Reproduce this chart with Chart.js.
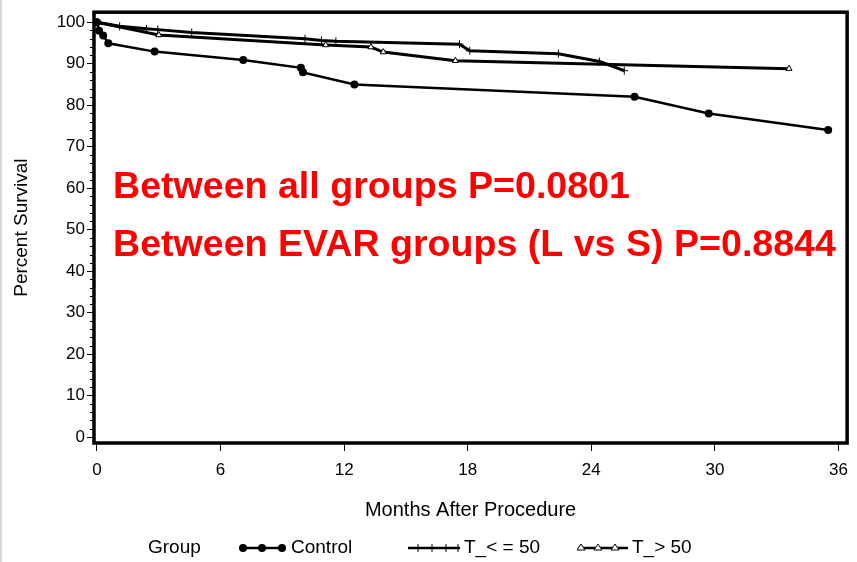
<!DOCTYPE html>
<html>
<head>
<meta charset="utf-8">
<script src="https://cdn.jsdelivr.net/npm/chart.js@4/dist/chart.umd.min.js"></script>
<style>
  html, body { margin: 0; padding: 0; background: #fff; }
  #wrap { width: 857px; height: 562px; }
</style>
</head>
<body>
<div id="wrap"><canvas id="km-chart" width="857" height="562"></canvas></div>
<script>
// Kaplan-Meier survival by group
const controlMonths = [0, 0.1, 0.3, 0.55, 2.8, 7.1, 9.9, 10.0, 12.5, 26.1, 29.7, 35.5];
const controlSurvival = [100, 97.9, 96.8, 94.9, 92.9, 90.9, 89.0, 87.9, 85.0, 82.0, 78.0, 74.0];

const lowMonths = [0, 1.1, 2.4, 2.95, 4.6, 10.1, 10.9, 11.6, 17.6, 18.1, 22.4, 24.4, 25.6];
const lowSurvival = [100, 99.0, 98.4, 98.2, 97.5, 96.0, 95.6, 95.4, 94.7, 93.1, 92.4, 90.5, 88.3];

const highMonths = [0, 3.0, 11.1, 13.3, 13.9, 17.4, 33.6];
const highSurvival = [100, 96.9, 94.5, 94.0, 92.8, 90.7, 88.8];

const groupLabels = ['Control', 'T_< = 50', 'T_> 50'];
const xTicks = [0, 6, 12, 18, 24, 30, 36];
const yTicks = [0, 10, 20, 30, 40, 50, 60, 70, 80, 90, 100];
const pValueNotes = ['Between all groups P=0.0801', 'Between EVAR groups (L vs S) P=0.8844'];

const FONT = 'Arial, "Liberation Sans", sans-serif';

function toPoints(xs, ys) {
    return xs.map((x, i) => ({ x: x, y: ys[i] }));
}

// frame, minor ticks, p-value notes and the SAS-style legend
const extrasPlugin = {
    id: 'extras',
    afterDraw(chart) {
        const ctx = chart.ctx;
        const a = chart.chartArea;
        const ys = chart.scales.y;
        ctx.save();

        // faint edge on the far left
        ctx.strokeStyle = '#d8d8d8';
        ctx.lineWidth = 2;
        ctx.beginPath();
        ctx.moveTo(1, 0);
        ctx.lineTo(1, 562);
        ctx.stroke();

        // plot frame
        ctx.strokeStyle = '#000';
        ctx.lineWidth = 3.5;
        ctx.strokeRect(a.left, a.top, a.right - a.left, a.bottom - a.top);

        // minor y ticks
        ctx.lineWidth = 1;
        for (let v = 2; v < 100; v += 2) {
            if (v % 10 === 0) continue;
            const py = Math.round(ys.getPixelForValue(v)) + 0.5;
            ctx.beginPath();
            ctx.moveTo(a.left - 4, py);
            ctx.lineTo(a.left, py);
            ctx.stroke();
        }

        // p-values
        ctx.fillStyle = '#ff0000';
        ctx.font = 'bold 37.6px ' + FONT;
        ctx.textBaseline = 'alphabetic';
        ctx.textAlign = 'left';
        ctx.fillText(pValueNotes[0], 113, 198);
        ctx.fillText(pValueNotes[1], 113, 256);

        // legend
        const ly = 548;
        ctx.fillStyle = '#000';
        ctx.font = '19px ' + FONT;
        ctx.textBaseline = 'middle';
        ctx.fillText('Group', 148, ly);

        const entries = [
            { x0: 240, x1: 285, text: 291, marks: [243, 262, 282], kind: 'circle' },
            { x0: 408, x1: 460, text: 464, marks: [418, 432, 446, 458], kind: 'cross' },
            { x0: 578, x1: 628, text: 632, marks: [581, 598, 615], kind: 'triangle' }
        ];
        entries.forEach((e, i) => {
            ctx.strokeStyle = '#000';
            ctx.lineWidth = 2.5;
            ctx.beginPath();
            ctx.moveTo(e.x0, ly);
            ctx.lineTo(e.x1, ly);
            ctx.stroke();
            e.marks.forEach(mx => {
                ctx.beginPath();
                if (e.kind === 'circle') {
                    ctx.arc(mx, ly, 4, 0, Math.PI * 2);
                    ctx.fill();
                } else if (e.kind === 'cross') {
                    ctx.lineWidth = 1;
                    ctx.moveTo(mx, ly - 4);
                    ctx.lineTo(mx, ly + 4);
                    ctx.stroke();
                } else {
                    ctx.lineWidth = 1;
                    ctx.fillStyle = '#fff';
                    ctx.moveTo(mx, ly - 4);
                    ctx.lineTo(mx + 4, ly + 2);
                    ctx.lineTo(mx - 4, ly + 2);
                    ctx.closePath();
                    ctx.fill();
                    ctx.stroke();
                    ctx.fillStyle = '#000';
                }
            });
            ctx.fillStyle = '#000';
            ctx.fillText(groupLabels[i], e.text, ly);
        });

        ctx.restore();
    }
};

const ctxKm = document.getElementById('km-chart').getContext('2d');
const kmChart = new Chart(ctxKm, {
    type: 'line',
    data: {
        datasets: [{
            label: groupLabels[0],
            data: toPoints(controlMonths, controlSurvival),
            borderColor: '#000',
            backgroundColor: '#000',
            borderWidth: 2.5,
            pointStyle: 'circle',
            pointRadius: 4,
            pointBorderWidth: 0,
            tension: 0
        }, {
            label: groupLabels[1],
            data: toPoints(lowMonths, lowSurvival),
            borderColor: '#000',
            backgroundColor: '#000',
            borderWidth: 3,
            pointStyle: 'cross',
            pointRadius: 4,
            pointBorderWidth: 1,
            tension: 0
        }, {
            label: groupLabels[2],
            data: toPoints(highMonths, highSurvival),
            borderColor: '#000',
            backgroundColor: '#fff',
            borderWidth: 3,
            pointStyle: 'triangle',
            pointRadius: 3.5,
            pointBorderWidth: 1,
            tension: 0
        }]
    },
    options: {
        responsive: false,
        animation: false,
        layout: { padding: { left: 0, right: 6, top: 9, bottom: 0 } },
        plugins: {
            legend: { display: false },
            tooltip: { enabled: false }
        },
        scales: {
            x: {
                type: 'linear',
                min: -0.145,
                max: 36.42,
                afterBuildTicks: (scale) => { scale.ticks = xTicks.map(v => ({ value: v })); },
                afterFit: (scale) => { scale.height = 119; },
                grid: { drawOnChartArea: false, color: '#000', tickLength: 8, lineWidth: 1 },
                border: { display: false },
                ticks: { color: '#000', font: { family: FONT, size: 17 }, padding: 9, maxRotation: 0 },
                title: {
                    display: true,
                    text: 'Months After Procedure',
                    color: '#000',
                    font: { family: FONT, size: 20 },
                    padding: { top: 0, bottom: 40 }
                }
            },
            y: {
                min: -1.43,
                max: 102.4,
                afterBuildTicks: (scale) => { scale.ticks = yTicks.map(v => ({ value: v })); },
                afterFit: (scale) => { scale.width = 94; },
                grid: { drawOnChartArea: false, color: '#000', tickLength: 7, lineWidth: 1 },
                border: { display: false },
                ticks: { color: '#000', font: { family: FONT, size: 17 }, padding: 2 },
                title: {
                    display: true,
                    text: 'Percent Survival',
                    color: '#000',
                    font: { family: FONT, size: 19 },
                    padding: { top: 10, bottom: 0 }
                }
            }
        }
    },
    plugins: [extrasPlugin]
});
</script>
</body>
</html>
